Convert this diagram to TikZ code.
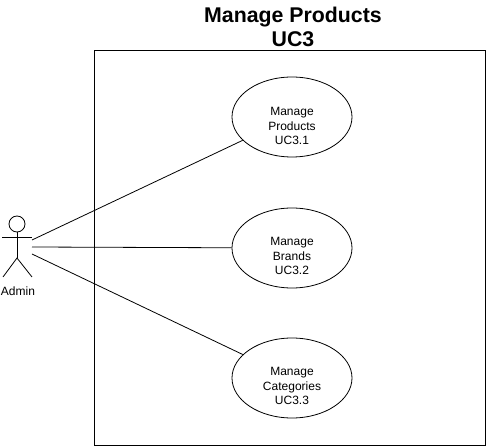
\documentclass[tikz,border=0pt]{standalone}
\usepackage{fontspec}
\setmainfont{Liberation Sans}
\usetikzlibrary{shapes.geometric,positioning,calc}

\begin{document}
\begin{tikzpicture}[x=1pt, y=-1pt, semithick]
	\tikzset{usecase/.style={ellipse,draw=black,fill=white,line width=0.8pt,minimum width=120pt,minimum height=80pt,inner sep=0pt}}
	\tikzset{uctext/.style={align=center,inner sep=0pt,font=\fontsize{12}{14.4}\selectfont}}
	\useasboundingbox (0,0) rectangle (490,446);
	\node[draw=black,line width=1pt,minimum width=391pt,minimum height=394pt,inner sep=0pt] (system) at (289.5,248) {};
	\node[align=center,font=\fontsize{21.3}{24}\bfseries\selectfont] (title) at (293,27) {Manage Products\\UC3};

	\node[usecase] (uc1) at (292,117) {};
	\node[usecase] (uc2) at (292,248) {};
	\node[usecase] (uc3) at (292,378) {};
	\node[uctext] (t1) at ($(uc1)+(0,9)$) {Manage\\Products\\UC3.1};
	\node[uctext] (t2) at ($(uc2)+(0,8)$) {Manage\\Brands\\UC3.2};
	\node[uctext] (t3) at ($(uc3)+(0,8)$) {Manage\\Categories\\UC3.3};

	% actor
	\node[circle,draw=black,line width=0.8pt,minimum size=16pt,inner sep=0pt] (head) at (17,224) {};
	\coordinate (hip) at (17,258);
	\coordinate (armL) at (2,237);
	\coordinate (armR) at (32,237);
	\coordinate (legL) at (3,277);
	\coordinate (legR) at (32,277);
	\node[font=\fontsize{12}{14}\selectfont] (admin) at (18,291) {Admin};
	\draw[line width=0.8pt] (head) -- (hip);
	\draw[line width=0.8pt] (armL) -- (armR);
	\draw[line width=0.8pt] (legL) -- (hip) -- (legR);

	\coordinate (a1) at (32,240);
	\coordinate (a2) at (32,247);
	\coordinate (a3) at (32,254);
	\path[draw=black,line width=0.8pt]
	(a1) -- (uc1)
	(a2) -- (uc2)
	(a3) -- (uc3);
\end{tikzpicture}
\end{document}
